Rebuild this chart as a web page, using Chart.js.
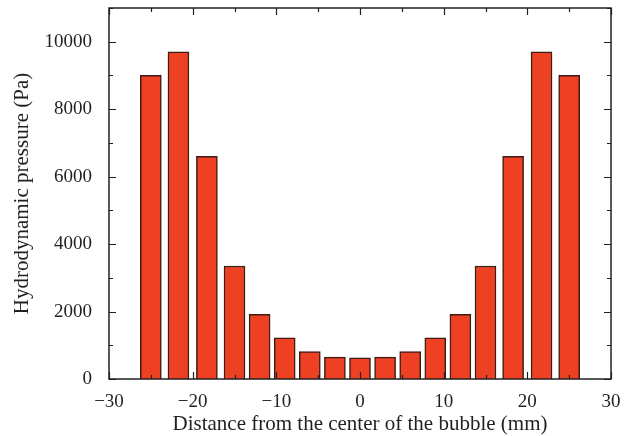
<!DOCTYPE html>
<html>
<head>
<meta charset="utf-8">
<script src="https://cdn.jsdelivr.net/npm/chart.js@4.4.1/dist/chart.umd.min.js"></script>
<style>
  html, body { margin: 0; padding: 0; background: #fff; }
  #wrap { width: 634px; height: 436px; }
</style>
</head>
<body>
<div id="wrap"><canvas id="mychart" width="634" height="436"></canvas></div>
<script>
// distance from bubble center (mm) and pressure (Pa)
var positions = [-25, -21.7, -18.3, -15, -12, -9, -6, -3, 0, 3, 6, 9, 12, 15, 18.3, 21.7, 25];
var pressures = [9000, 9700, 6600, 3350, 1920, 1220, 810, 650, 630, 650, 810, 1220, 1920, 3350, 6600, 9700, 9000];
var xTicks = [-30, -20, -10, 0, 10, 20, 30];
var yTicks = [0, 2000, 4000, 6000, 8000, 10000];

var ink = '#231f20';
var fontFam = "'Liberation Serif', 'DejaVu Serif', serif";

// box frame + inward ticks on all four sides
var frameTicks = {
    id: 'frameTicks',
    afterDraw: function(chart) {
        var ctx = chart.ctx, a = chart.chartArea;
        var x = chart.scales.x, y = chart.scales.y;
        ctx.save();
        ctx.strokeStyle = ink;
        ctx.lineWidth = 1.5;
        ctx.strokeRect(a.left, a.top, a.right - a.left, a.bottom - a.top);
        ctx.lineWidth = 1.2;
        ctx.beginPath();
        for (var v = x.min; v <= x.max; v += 5) {
            var px = Math.round(x.getPixelForValue(v)) + 0.5;
            var len = (v % 10 === 0) ? 7 : 4;
            ctx.moveTo(px, a.bottom); ctx.lineTo(px, a.bottom - len);
            ctx.moveTo(px, a.top); ctx.lineTo(px, a.top + len);
        }
        for (var w = y.min; w <= y.max; w += 1000) {
            var py = Math.round(y.getPixelForValue(w)) + 0.5;
            var l2 = (w % 2000 === 0) ? 7 : 4;
            ctx.moveTo(a.left, py); ctx.lineTo(a.left + l2, py);
            ctx.moveTo(a.right, py); ctx.lineTo(a.right - l2, py);
        }
        ctx.stroke();
        ctx.restore();
    }
};

var pts = [];
for (var i = 0; i < positions.length; i++) {
    pts.push({x: positions[i], y: pressures[i]});
}

var config = {
    type: 'bar',
    data: {
        datasets: [{
            data: pts,
            backgroundColor: '#ee4124',
            borderColor: '#3d1c16',
            borderWidth: 1.5,
            barThickness: 21
        }]
    },
    options: {
        responsive: false,
        animation: false,
        layout: { padding: { left: 0, top: 8, right: 23, bottom: 0 } },
        plugins: { legend: { display: false }, tooltip: { enabled: false } },
        scales: {
            x: {
                type: 'linear',
                min: -30,
                max: 30,
                offset: false,
                grid: { display: false, offset: false },
                border: { display: false },
                afterBuildTicks: function(s) { s.ticks = xTicks.map(function(v){ return {value: v}; }); },
                afterFit: function(s) { s.height = 57; s.paddingLeft = 0; s.paddingRight = 0; },
                ticks: {
                    color: ink,
                    padding: 4,
                    maxRotation: 0,
                    font: { family: fontFam, size: 19 },
                    callback: function(v) { return String(v).replace('-', '\u2212'); }
                },
                title: {
                    display: true,
                    text: 'Distance from the center of the bubble (mm)',
                    color: ink,
                    padding: { top: 0, bottom: 0 },
                    font: { family: fontFam, size: 21, lineHeight: 1.1 }
                }
            },
            y: {
                min: 0,
                max: 11000,
                grid: { display: false },
                border: { display: false },
                afterBuildTicks: function(s) { s.ticks = yTicks.map(function(v){ return {value: v}; }); },
                afterFit: function(s) { s.width = 109; s.paddingTop = 0; s.paddingBottom = 0; },
                ticks: {
                    color: ink,
                    padding: 9,
                    font: { family: fontFam, size: 19 },
                    callback: function(v) { return String(v); }
                },
                title: {
                    display: true,
                    text: 'Hydrodynamic pressure (Pa)',
                    color: ink,
                    padding: { top: 10, bottom: 0 },
                    font: { family: fontFam, size: 21 }
                }
            }
        }
    },
    plugins: [frameTicks]
};

var ctx = document.getElementById('mychart').getContext('2d');
window.myBar = new Chart(ctx, config);
</script>
</body>
</html>
